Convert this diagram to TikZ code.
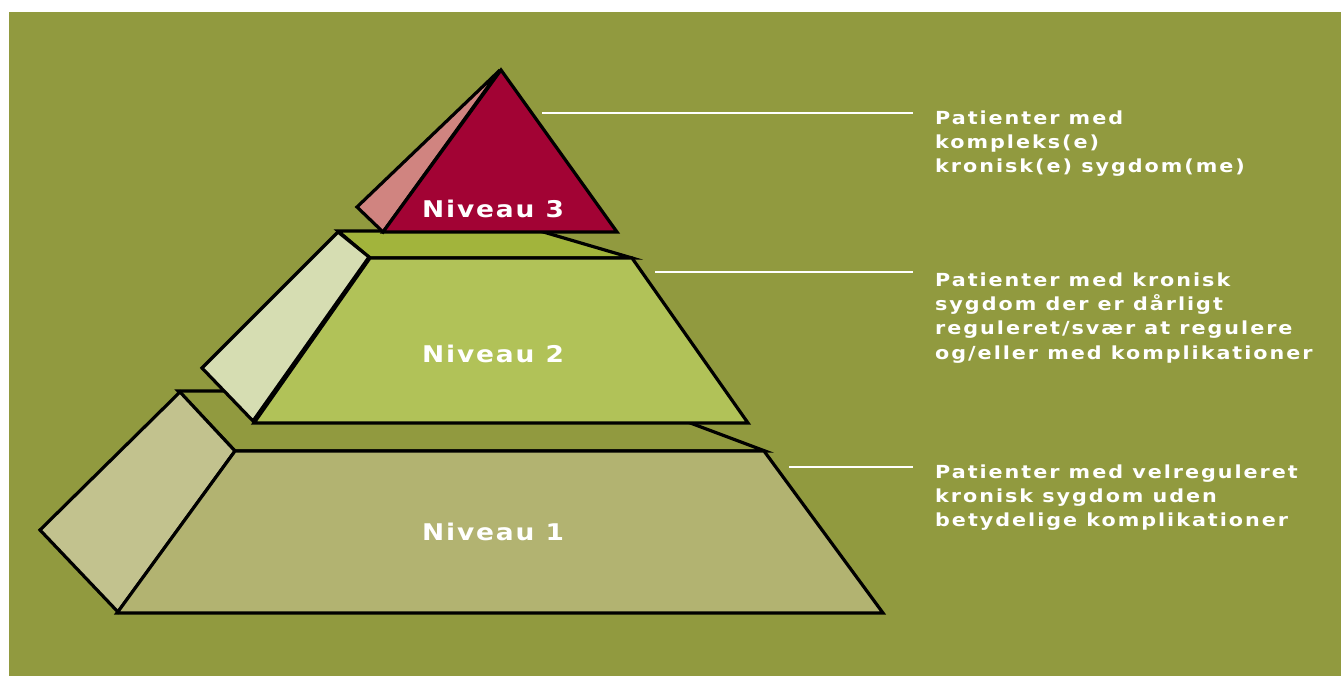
\documentclass[tikz,border=0pt]{standalone}
\usepackage{fontspec}
\newfontfamily\lblfont[LetterSpace=11,FakeStretch=1.15]{DejaVu Sans}
\newfontfamily\lvlfont[LetterSpace=8,FakeStretch=1.15]{DejaVu Sans}
\definecolor{bg}{HTML}{919A3F}
\definecolor{topred}{HTML}{A20334}
\definecolor{pinkside}{HTML}{D08480}
\definecolor{bandthree}{HTML}{A2B43C}
\definecolor{lvltwo}{HTML}{B1C258}
\definecolor{sidetwo}{HTML}{D6DDB2}
\definecolor{lvlone}{HTML}{B2B371}
\definecolor{sideone}{HTML}{C2C28E}
\tikzset{
  face/.style={draw=black, line width=3.2pt, line join=miter},
  leader/.style={draw=white, line width=2.2pt},
  lvltext/.style={text=white, inner sep=0pt, anchor=west, font=\lvlfont\bfseries\fontsize{23}{23}\selectfont},
  desc/.style={text=white, inner sep=0pt, anchor=north west, align=left, font=\lblfont\bfseries\fontsize{18}{24.3}\selectfont}
}
\begin{document}
\begin{tikzpicture}[x=1pt,y=-1pt]
\useasboundingbox (0,0) rectangle (1341,676);
\fill[white] (0,0) rectangle (1341,676);
\fill[bg] (9,12) rectangle (1341,676);
% level 1 band
\path[face, fill=bg] (178,391) -- (605,391) -- (765,451) -- (235,451) -- cycle;
% level 1 side
\path[face, fill=sideone] (180,392) -- (235,451) -- (118,612) -- (40,530) -- cycle;
% level 1 trapezoid
\path[face, fill=lvlone] (235,451) -- (764,451) -- (883,613) -- (117,613) -- cycle;
% level 3 band
\path[face, fill=bandthree] (338,231) -- (540,231) -- (632,258) -- (370,258) -- cycle;
% level 2 side
\path[face, fill=sidetwo] (338,232) -- (369,257) -- (253,421) -- (202,368) -- cycle;
% level 2 trapezoid
\path[face, fill=lvltwo] (370,258) -- (632,258) -- (748,423) -- (254,423) -- cycle;
% pink side of top
\path[face, fill=pinkside] (500,70) -- (357,207) -- (383,232) -- cycle;
% top triangle
\path[face, fill=topred] (501,70) -- (617,232) -- (383,232) -- cycle;
% level labels
\node[lvltext] (n3) at (422,209) {Niveau 3};
\node[lvltext] (n2) at (422,354) {Niveau 2};
\node[lvltext] (n1) at (422,532) {Niveau 1};
% descriptions
\node[desc] (d3) at (935,110.5) {Patienter med\\kompleks(e)\\kronisk(e) sygdom(me)};
\node[desc] (d2) at (935,272.5) {Patienter med kronisk\\sygdom der er dårligt\\reguleret/svær at regulere\\og/eller med komplikationer};
\node[desc] (d1) at (935,464.5) {Patienter med velreguleret\\kronisk sygdom uden\\betydelige komplikationer};
% leaders
\coordinate (a3) at (542,113);
\coordinate (b3) at (913,113);
\coordinate (a2) at (655,272);
\coordinate (b2) at (913,272);
\coordinate (a1) at (789,467);
\coordinate (b1) at (913,467);
\draw[leader] (a3) -- (b3);
\draw[leader] (a2) -- (b2);
\draw[leader] (a1) -- (b1);
\end{tikzpicture}
\end{document}
